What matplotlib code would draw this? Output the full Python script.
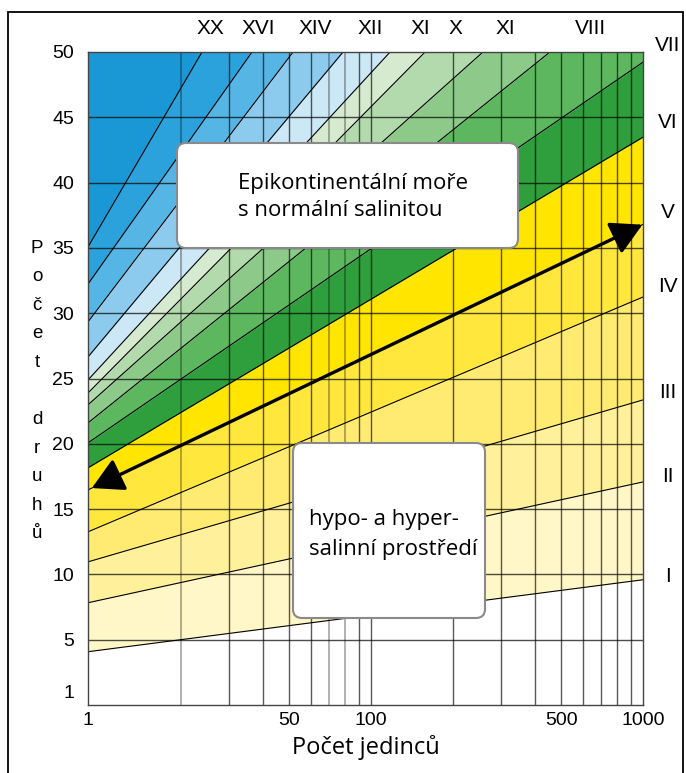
import numpy as np
import matplotlib
matplotlib.use("Agg")
import matplotlib.pyplot as plt
from matplotlib.patches import FancyBboxPatch, FancyArrowPatch, Rectangle

# ---------------- data ----------------
N_LEFT = 9.1                      # left edge of the log axis (labelled "1")
N_RIGHT = 1000
x_tick_vals = [N_LEFT, 50, 100, 500, 1000]
x_tick_labels = ["1", "50", "100", "500", "1000"]
y_tick_vals = [1, 5, 10, 15, 20, 25, 30, 35, 40, 45, 50]
grid_n_dark = [30, 40, 50, 60, 90, 100, 200, 300, 400, 500, 600, 700, 800, 900]
grid_n_grey = [20, 70, 80]
grid_s = [5, 10, 15, 20, 25, 30, 35, 40, 45]

# lines leaving through the right edge (S at left edge, S at N=1000)
right_labels = ["I", "II", "III", "IV", "V", "VI", "VII"]
right_s_left = [4.08, 7.83, 10.96, 13.26, 16.47, 18.16, 20.07]
right_s_end = [9.59, 17.08, 23.36, 31.24, 36.8, 43.48, 49.22]

# lines leaving through the top edge (S at left edge, N where S = 50)
top_labels = ["VIII", "XI", "X", "XI", "XII", "XIV", "XVI", "XX"]
top_s_left = [21.60, 22.98, 23.89, 24.89, 26.65, 29.33, 32.23, 35.07]
top_n_end = [455, 258, 158, 117.5, 78.9, 51.7, 36.5, 23.9]

band_colors = ["#ffffff", "#fff7c8", "#fff09c", "#ffeb72", "#ffe73e", "#ffe500",
               "#2f9e3c", "#5cb75f", "#8dca89", "#b3daac", "#d6eacf",
               "#cce7f6", "#8ccbee", "#55b5e5", "#2ca2dc", "#1a98d5"]

arrow_n = [9.4, 995]              # double arrow lies on line V

# layout (pixels) of the roman numerals above the frame
top_label_px = [590, 505, 455, 420, 370, 315, 258, 210]

# ---------------- geometry helpers ----------------
L0, L1 = np.log10(N_LEFT), np.log10(N_RIGHT)
lines = []   # (s_left, slope per decade)
for sl, se in zip(right_s_left, right_s_end):
    lines.append((sl, (se - sl) / (L1 - L0)))
for sl, ne in zip(top_s_left, top_n_end):
    lines.append((sl, (50 - sl) / (np.log10(ne) - L0)))

def s_of(line, n):
    sl, k = line
    return sl + k * (np.log10(n) - L0)

# ---------------- figure ----------------
fig = plt.figure(figsize=(6.86, 7.73), dpi=100)
ax = fig.add_axes([88 / 686, 1 - 705 / 773, (643 - 88) / 686, (705 - 52) / 773])
ax.set_xscale("log")
ax.set_xlim(N_LEFT, N_RIGHT)
ax.set_ylim(0, 50)

xs = np.array([N_LEFT, N_RIGHT])
bounds = [np.array([-10.0, -10.0])] + [np.array([s_of(l, N_LEFT), s_of(l, N_RIGHT)]) for l in lines] \
         + [np.array([200.0, 400.0])]
for i, c in enumerate(band_colors):
    ax.fill_between(xs, bounds[i], bounds[i + 1], color=c, lw=0, zorder=0)

for n in grid_n_dark:
    ax.axvline(n, color="black", alpha=0.65, lw=1.0, zorder=1)
for n in grid_n_grey:
    ax.axvline(n, color="black", alpha=0.33, lw=1.3, zorder=1)
for s in grid_s:
    ax.axhline(s, color="black", alpha=0.7, lw=1.0, zorder=1)

for l in lines:
    ax.plot(xs, [s_of(l, N_LEFT), s_of(l, N_RIGHT)], color="black", lw=0.8, zorder=2)

lineV = lines[4]
arr = FancyArrowPatch((arrow_n[0], s_of(lineV, arrow_n[0])), (arrow_n[1], s_of(lineV, arrow_n[1])),
                      arrowstyle="<|-|>,head_length=1.0,head_width=0.55", mutation_scale=19,
                      color="black", lw=2.4, zorder=3, shrinkA=0, shrinkB=0)
ax.add_patch(arr)

# roman numeral labels
right_n_lab = N_RIGHT * 10 ** (25 / 272)
for lab, l in zip(right_labels, lines[:7]):
    ax.text(right_n_lab, s_of(l, right_n_lab), lab, ha="center", va="center",
            fontsize=15, family="Liberation Sans", clip_on=False)
for lab, px in zip(top_labels, top_label_px):
    fig.text(px / 686, 1 - 28 / 773, lab, ha="center", va="center",
             fontsize=15, family="Liberation Sans")

ax.set_xticks(x_tick_vals)
ax.set_xticklabels(x_tick_labels)
ax.xaxis.set_minor_locator(matplotlib.ticker.NullLocator())
ax.set_yticks(y_tick_vals)
ax.tick_params(length=0, labelsize=14, pad=5)
ax.tick_params(axis="y", pad=10)
for t in ax.get_xticklabels() + ax.get_yticklabels():
    t.set_family("Liberation Sans")
for sp in ax.spines.values():
    sp.set_color("#444444")
    sp.set_linewidth(1.0)
ax.set_xlabel("Počet jedinců", fontsize=17, family="Open Sans", labelpad=4)

# y label as stacked letters
fig.text(37 / 686, 1 - 391 / 773, "\n".join(list("Počet druhů")), ha="center", va="center",
         fontsize=13.5, family="Liberation Sans", linespacing=1.89, multialignment="center")

# text boxes
def box(x0, y0, x1, y1):
    p = FancyBboxPatch((x0 / 100, (773 - y1) / 100), (x1 - x0) / 100, (y1 - y0) / 100,
                       boxstyle="round,pad=0,rounding_size=0.09",
                       transform=fig.dpi_scale_trans, facecolor="white",
                       edgecolor="#8a8a8a", lw=1.5, zorder=4)
    fig.add_artist(p)

box(177, 143, 518, 248)
box(293, 443, 485, 618)
box_font = dict(ha="left", va="center", fontsize=16, family="Open Sans", zorder=5)
fig.text(238 / 686, 1 - 183 / 773, "Epikontinentální moře", **box_font)
fig.text(238 / 686, 1 - 211 / 773, "s normální salinitou", **box_font)
fig.text(309 / 686, 1 - 520 / 773, "hypo- a hyper-", **box_font)
fig.text(309 / 686, 1 - 549 / 773, "salinní prostředí", **box_font)

# outer frame
fig.add_artist(Rectangle((8 / 686, -0.05), (683 - 8) / 686, 1.05 - 12 / 773,
                         transform=fig.transFigure, fill=False, edgecolor="black", lw=1.3))

fig.savefig("out.png", dpi=100)
